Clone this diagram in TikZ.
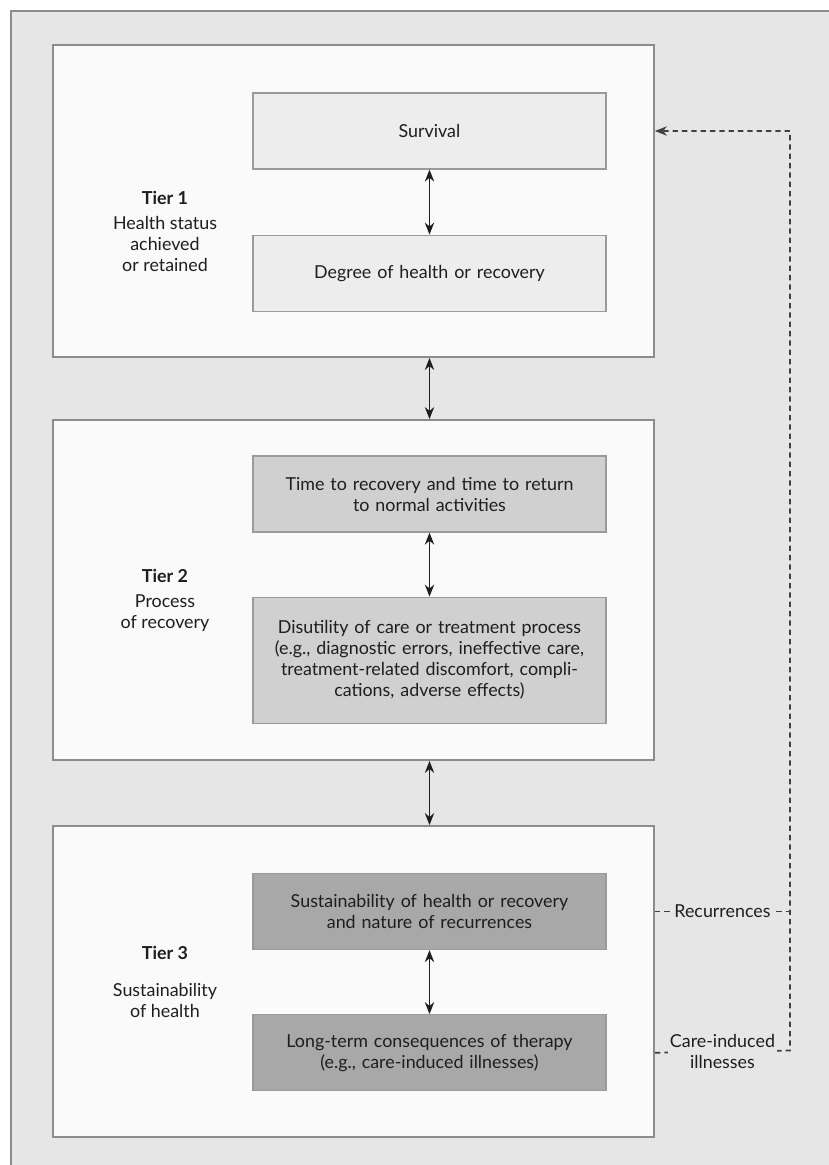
\documentclass[tikz,border=0pt]{standalone}
\usepackage{xcolor}
\usepackage{fontspec}
\setmainfont{Lato}
\usepackage{tikz}
\usetikzlibrary{arrows.meta, positioning}

\definecolor{pagegray}{HTML}{E6E6E6}
\definecolor{framegray}{HTML}{8C8C8C}
\definecolor{tierwhite}{HTML}{FAFAFA}
\definecolor{boxedge}{HTML}{9A9A9A}
\definecolor{lightfill}{HTML}{EDEDED}
\definecolor{midfill}{HTML}{D0D0D0}
\definecolor{darkfill}{HTML}{A8A8A8}
\definecolor{ink}{HTML}{1E1E1E}

\begin{document}
\begin{tikzpicture}[
    x=0.75pt, y=-0.75pt,
    tier/.style={
        rectangle, draw=framegray,
        line width=1.4pt,
        fill=tierwhite,
        minimum width=450.75pt
    },
    box/.style={
        rectangle, draw=boxedge,
        line width=0.9pt,
        text width=258pt,
        align=center,
        minimum width=264.75pt,
        minimum height=57pt,
        text=ink,
        font=\fontsize{13.4}{15.75}\selectfont
    },
    title/.style={text=ink, font=\bfseries\fontsize{13.4}{16}\selectfont},
    caption/.style={text=ink, align=center, font=\fontsize{13.4}{15.5}\selectfont},
    arrow/.style={{Stealth[length=9pt,width=7pt]}-{Stealth[length=9pt,width=7pt]}, line width=1.1pt, draw=ink},
    loop/.style={dashed, dash pattern=on 4pt off 3pt, line width=1.3pt, draw=ink!85},
    tag/.style={fill=pagegray, inner sep=1.5pt, text=ink, align=center, font=\fontsize{13.4}{15.5}\selectfont}
]

\useasboundingbox (0,0) rectangle (829,1165);

% Page and frame
\fill[white] (0,0) rectangle (829,1165);
\fill[pagegray] (11,11) rectangle (829,1165);
\draw[framegray, line width=1.4pt] (11,1165) -- (11,11) -- (829,11);

% Tier frames
\node [tier, minimum height=234pt] (tierone) at (353.5,201) {};
\node [tier, minimum height=255pt] (tiertwo) at (353.5,590) {};
\node [tier, minimum height=233.25pt] (tierthree) at (353.5,981.5) {};

% Tier labels
\node [title] (tieronetitle) at (165,198) {Tier 1};
\node [caption, below=2pt of tieronetitle] (tieronetext) {Health status\\achieved\\or retained};
\node [title] (tiertwotitle) at (165,576) {Tier 2};
\node [caption, below=2pt of tiertwotitle] (tiertwotext) {Process\\of recovery};
\node [title] (tierthreetitle) at (165,953) {Tier 3};
\node [caption, below=11pt of tierthreetitle] (tierthreetext) {Sustainability\\of health};

% Tier 1 boxes
\node [box, fill=lightfill] (survival) at (429.5,131) {Survival};
\node [box, fill=lightfill, below=48.75pt of survival] (degree) {Degree of health or recovery};

% Tier 2 boxes
\node [box, fill=midfill] (recovery) at (429.5,494) {Time to recovery and time to return\\to normal activities};
\node [box, fill=midfill, minimum height=94.5pt, below=48pt of recovery] (disutility) {Disutility of care or treatment process\\(e.g., diagnostic errors, ineffective care,\\treatment-related discomfort, compli-\\cations, adverse effects)};

% Tier 3 boxes
\node [box, fill=darkfill] (sustain) at (429.5,911.5) {Sustainability of health or recovery\\and nature of recurrences};
\node [box, fill=darkfill, below=48pt of sustain] (longterm) {Long-term consequences of therapy\\(e.g., care-induced illnesses)};

% Arrows inside tiers
\draw [arrow] (survival) -- (degree);
\draw [arrow] (recovery) -- (disutility);
\draw [arrow] (sustain) -- (longterm);

% Arrows between tiers
\draw [arrow] (tierone.south -| survival) -- (tiertwo.north -| survival);
\draw [arrow] (tiertwo.south -| recovery) -- (tierthree.north -| recovery);

% Feedback loop
\coordinate (loopcorner) at (790,1050.5);
\draw [loop, -{Stealth[length=9pt,width=7pt]}] (tierthree.east |- longterm) -- node [tag] {Care-induced\\illnesses} (loopcorner) -- (loopcorner |- survival) -- (tierone.east |- survival);
\draw [loop] (tierthree.east |- sustain) -- node [tag] {Recurrences} (loopcorner |- sustain);

\end{tikzpicture}
\end{document}
